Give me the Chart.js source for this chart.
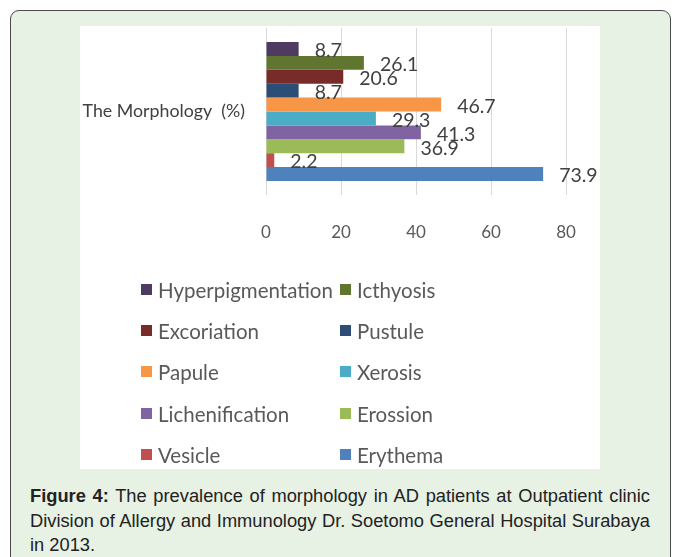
<!DOCTYPE html>
<html><head><meta charset="utf-8">
<script src="https://cdn.jsdelivr.net/npm/chart.js@4.4.1/dist/chart.umd.min.js"></script>
<style>
html,body{margin:0;padding:0;background:#fff;width:675px;height:557px;overflow:hidden;}
#box{position:absolute;left:10px;top:10px;width:661px;height:600px;border:1.5px solid #4a4a4a;border-radius:9px;background:#e7f1e4;box-sizing:border-box;}
#panel{position:absolute;left:80px;top:26px;width:520px;height:443px;background:#fff;}
#chartWrap{position:absolute;left:0;top:0;width:520px;height:230px;}
#legend{position:absolute;left:0;top:0;width:520px;height:443px;pointer-events:none;}
.li{position:absolute;height:24px;font-family:Lato,"Open Sans",sans-serif;font-size:20.5px;color:#595959;white-space:nowrap;line-height:24px;}
.li span.m{position:absolute;left:0;top:6px;width:11px;height:11px;}
.li span.t{position:absolute;left:17px;top:0;}
#caption{position:absolute;left:30px;top:484px;width:620px;font-family:"Liberation Sans",Arial,sans-serif;font-size:18.3px;line-height:24.5px;color:#222;}
#caption .j{text-align:justify;text-align-last:justify;white-space:nowrap;}
</style></head>
<body>
<div id="box"></div>
<div id="panel">
  <div id="chartWrap"><canvas id="c"></canvas></div>
  <div id="legend"></div>
</div>
<div id="caption"><div class="j"><b>Figure 4:</b> The prevalence of morphology in AD patients at Outpatient clinic</div><div class="j">Division of Allergy and Immunology Dr. Soetomo General Hospital Surabaya</div><div>in 2013.</div></div>
<script>
const categories = ["The Morphology  (%)"];
const seriesNames = ["Hyperpigmentation","Icthyosis","Excoriation","Pustule","Papule","Xerosis","Lichenification","Erossion","Vesicle","Erythema"];
const seriesValues = [8.7, 26.1, 20.6, 8.7, 46.7, 29.3, 41.3, 36.9, 2.2, 73.9];
const seriesColors = ["#4e3b62","#60752f","#772c2a","#2c4d75","#f79646","#4bacc6","#8064a2","#9bbb59","#c0504d","#4f81bd"];
const xTicks = [0, 20, 40, 60, 80];

const datasets = seriesNames.map((n,i)=>({
  label:n, data:[seriesValues[i]], backgroundColor:seriesColors[i], borderWidth:0,
  categoryPercentage:0.832, barPercentage:1.0
}));

const valueLabels = {
  id:'valueLabels',
  afterDatasetsDraw(chart){
    const ctx = chart.ctx;
    ctx.save();
    ctx.font = '19.5px Lato, "Open Sans", sans-serif';
    ctx.fillStyle = '#404040';
    ctx.textAlign = 'left';
    ctx.textBaseline = 'middle';
    chart.data.datasets.forEach((ds,i)=>{
      const meta = chart.getDatasetMeta(i);
      meta.data.forEach((el,j)=>{
        ctx.fillText(String(ds.data[j]), el.x + 16, el.y + 2);
      });
    });
    ctx.restore();
  }
};

const chart = new Chart(document.getElementById('c'), {
  type:'bar',
  data:{labels:categories, datasets},
  options:{
    indexAxis:'y',
    responsive:true, maintainAspectRatio:false, animation:false,
    layout:{padding:{top:2,right:34,left:0,bottom:0}},
    plugins:{legend:{display:false}, tooltip:{enabled:false}},
    scales:{
      x:{
        min:0, max:80,
        afterBuildTicks(s){ s.ticks = xTicks.map(v=>({value:v})); },
        afterFit(s){ s.height = 61; s.paddingLeft = 0; s.paddingRight = 0; },
        grid:{color:'#d9d9d9', drawTicks:false, lineWidth:1},
        border:{display:false},
        ticks:{padding:27, color:'#595959', font:{family:'Lato', size:17}}
      },
      y:{
        afterFit(s){ s.width = 186; s.paddingTop = 0; s.paddingBottom = 0; },
        grid:{display:false, drawTicks:false},
        border:{display:false},
        ticks:{padding:21, color:'#404040', font:{family:'Lato', size:17.8}}
      }
    }
  },
  plugins:[valueLabels]
});

// legend (two columns) built from the chart's datasets
const leg = document.getElementById('legend');
chart.data.datasets.forEach((ds,i)=>{
  const col = i % 2, row = Math.floor(i/2);
  const d = document.createElement('div');
  d.className = 'li';
  d.style.left = (col ? 260 : 61) + 'px';
  d.style.top = (264 + row*41.2 - 12) + 'px';
  d.innerHTML = '<span class="m" style="background:'+ds.backgroundColor+'"></span><span class="t"></span>';
  d.querySelector('.t').textContent = ds.label;
  leg.appendChild(d);
});
</script>
</body></html>
